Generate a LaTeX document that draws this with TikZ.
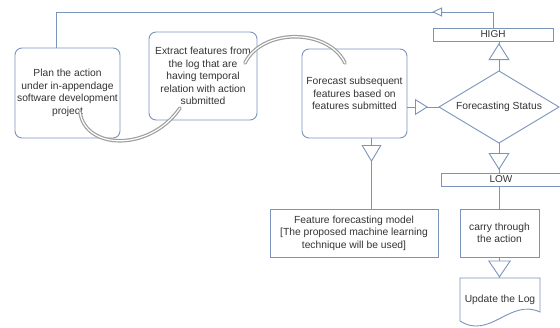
\documentclass[tikz,border=0pt]{standalone}
\usepackage{fontspec}
\setmainfont{Liberation Sans}
\usetikzlibrary{shapes.geometric,arrows.meta,decorations.markings}
\definecolor{edge}{RGB}{122,148,188}

\begin{document}
\begin{tikzpicture}[x=1pt,y=-1pt,
    every node/.style={font=\fontsize{10.3}{12.5}\selectfont, text=black!80, align=center, inner sep=2pt, outer sep=0pt},
    link/.style={draw=edge, color=edge, text=black!80, line width=0.9pt},
    rndbox/.style={link, rounded corners=7pt},
    sqbox/.style={link},
    tagbox/.style={link, minimum width=120pt, minimum height=13pt, inner sep=0pt, font=\fontsize{10}{10}\selectfont},
    decision/.style={link, diamond, aspect=1.67, inner sep=0pt, minimum width=120pt, minimum height=72pt},
    tri at/.style n args={3}{postaction={decorate}, decoration={markings, mark=at position #1 with {\arrow{Triangle[fill=white,length=#2,width=#3]}}}},
    swoosh/.style={draw=black!38, line width=3.6pt, line cap=round, postaction={draw=white, line width=1.2pt}}
  ]
    \useasboundingbox (0,0) rectangle (560,327);

    \node[rndbox, minimum width=105pt, minimum height=90pt] (P) at (67.5,93) {Plan the action\\under in-appendage\\software development\\project};
    \node[rndbox, minimum width=108pt, minimum height=88pt] (E) at (203,76) {Extract features from\\the log that are\\having temporal\\relation with action\\submitted};
    \node[rndbox, minimum width=105pt, minimum height=89pt] (F) at (354.5,93.5) {Forecast subsequent\\features based on\\features submitted};
    \node[decision] (S) at (499,107) {Forecasting Status};
    \node[tagbox] (H) at (493,34.5) {HIGH};
    \node[tagbox] (L) at (501,179.5) {LOW};
    \node[sqbox, minimum width=168pt, minimum height=48pt] (M) at (354,233) {Feature forecasting model\\{}[The proposed machine learning\\technique will be used]};
    \node[sqbox, minimum width=79pt, minimum height=48pt] (C) at (499.5,233) {carry through\\the action};
    \node[minimum width=80pt, minimum height=44pt] (U) at (500,300) {Update the Log};
    \draw[link] (U.north west) -- (U.north east) -- (540,312) .. controls (510,298) and (490,340) .. (460,321) -- cycle;

    % flow between the steps
    \coordinate (R) at (56,12);
    \draw[link, tri at={77pt}{10pt}{9pt}] (H.north) |- (R) -- (R |- P.north);
    \draw[link, tri at={28pt}{17pt}{21pt}] (S.north) -- (S.north |- H.south);
    \draw[link, tri at={21pt}{13pt}{16pt}] (F.east |- S.west) -- (S.west);
    \draw[link, tri at={24pt}{17pt}{20pt}] ([xshift=17pt]F.south) -- ([xshift=17pt]F.south |- M.north);
    \draw[link, tri at={27pt}{17pt}{21pt}] (S.south) -- (S.south |- L.north);
    \draw[link] (C.north |- L.south) -- (C.north);
    \draw[link, tri at={20.5pt}{17pt}{23pt}] (C.south) -- (C.south |- U.north);

    % curved links between the first boxes
    \coordinate (a1) at (80,112);
    \coordinate (a2) at (180,108);
    \coordinate (b1) at (245,63);
    \coordinate (b2) at (345,63);
    \draw[swoosh] (a1) .. controls (85,150) and (150,152) .. (a2);
    \draw[swoosh] (b1) .. controls (262,28) and (328,28) .. (b2);
\end{tikzpicture}
\end{document}
